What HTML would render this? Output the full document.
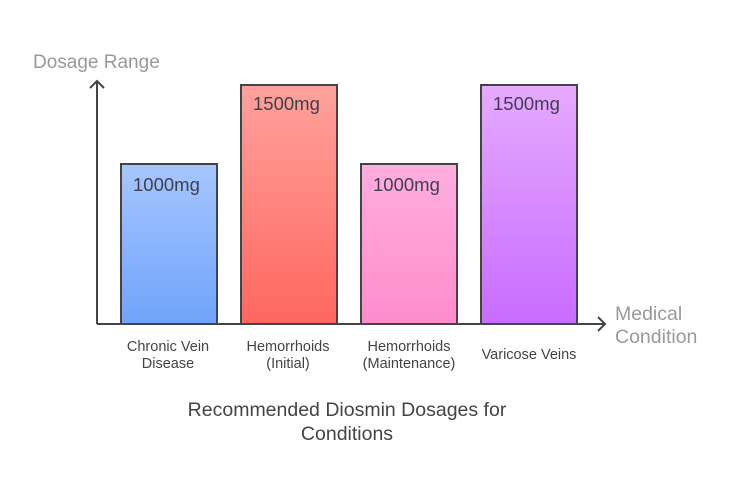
<!DOCTYPE html>
<html><head><meta charset="utf-8"><style>
html,body{margin:0;padding:0;background:#fff;}
svg text{font-family:"Liberation Sans",sans-serif;}
</style></head><body>
<svg width="734" height="494" viewBox="0 0 734 494" xmlns="http://www.w3.org/2000/svg">
<defs>
<linearGradient id="gb" x1="0" y1="0" x2="0" y2="1"><stop offset="0" stop-color="#a6c6ff"/><stop offset="1" stop-color="#6fa3fa"/></linearGradient>
<linearGradient id="gr" x1="0" y1="0" x2="0" y2="1"><stop offset="0" stop-color="#ffa29c"/><stop offset="1" stop-color="#ff6660"/></linearGradient>
<linearGradient id="gp" x1="0" y1="0" x2="0" y2="1"><stop offset="0" stop-color="#ffaee0"/><stop offset="1" stop-color="#ff8ccc"/></linearGradient>
<linearGradient id="gv" x1="0" y1="0" x2="0" y2="1"><stop offset="0" stop-color="#e6aaff"/><stop offset="1" stop-color="#c86cff"/></linearGradient>
</defs>
<text x="33" y="68" font-size="19" fill="#999">Dosage Range</text>
<rect x="121" y="164" width="96" height="160" fill="url(#gb)" stroke="#444" stroke-width="2"/>
<rect x="241" y="85" width="96" height="239" fill="url(#gr)" stroke="#444" stroke-width="2"/>
<rect x="361" y="164" width="96" height="160" fill="url(#gp)" stroke="#444" stroke-width="2"/>
<rect x="481" y="85" width="96" height="239" fill="url(#gv)" stroke="#444" stroke-width="2"/>
<g font-size="18.5" fill="#3f3f4f">
<text x="133" y="191">1000mg</text>
<text x="253" y="110">1500mg</text>
<text x="373" y="191">1000mg</text>
<text x="493" y="110">1500mg</text>
</g>
<path d="M97 324 V81 M90 88 L97 81 L104 88" stroke="#444" stroke-width="2" fill="none"/>
<path d="M97 324 H605 M598 317 L605 324 L598 331" stroke="#444" stroke-width="2" fill="none"/>
<text x="615" y="320" font-size="19.5" fill="#999">Medical</text>
<text x="615" y="343" font-size="19.5" fill="#999">Condition</text>
<g font-size="14.5" fill="#444" text-anchor="middle">
<text x="168" y="351">Chronic Vein</text>
<text x="168" y="368">Disease</text>
<text x="288" y="351">Hemorrhoids</text>
<text x="288" y="368">(Initial)</text>
<text x="409" y="351">Hemorrhoids</text>
<text x="409" y="368">(Maintenance)</text>
<text x="529" y="359">Varicose Veins</text>
</g>
<g font-size="19.5" fill="#444" text-anchor="middle">
<text x="347" y="416">Recommended Diosmin Dosages for</text>
<text x="347" y="440">Conditions</text>
</g>
</svg>
</body></html>
